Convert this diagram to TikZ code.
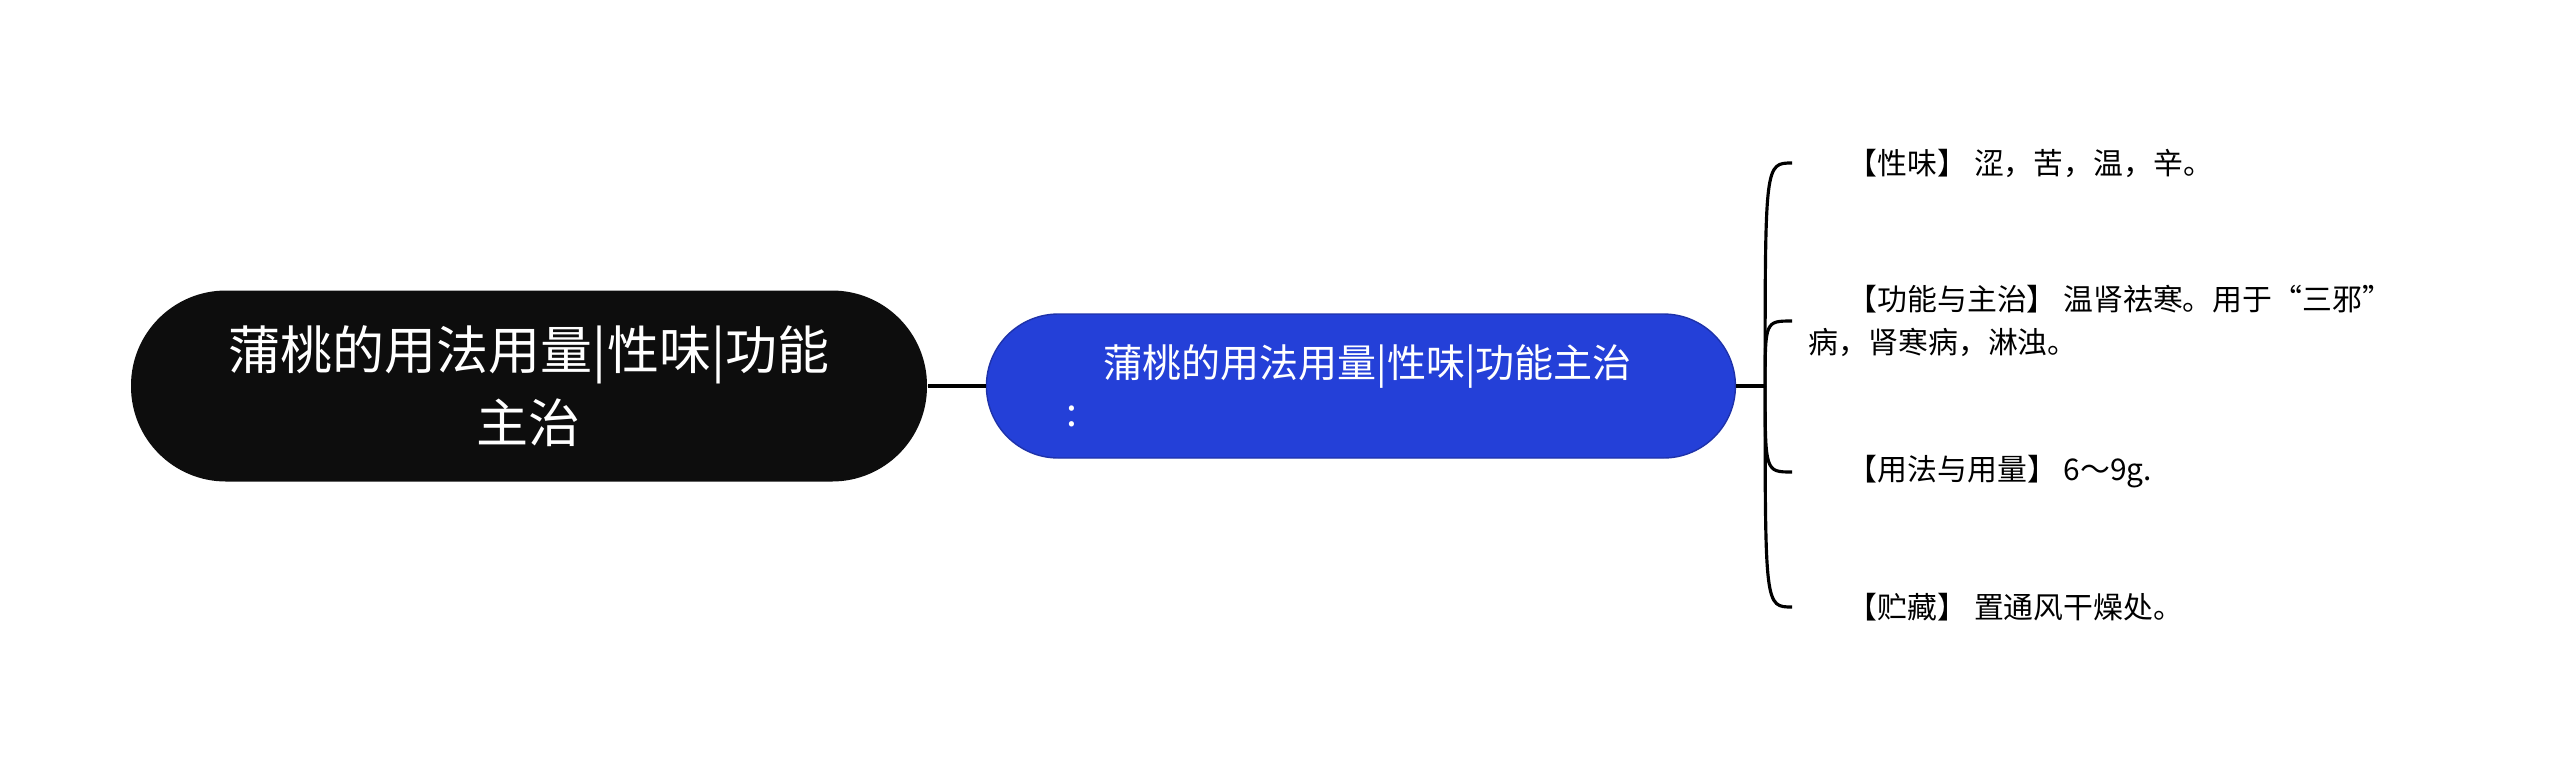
\documentclass[tikz,border=0pt]{standalone}
\usepackage{fontspec}
\setmainfont{Noto Sans CJK SC}
\usepackage{tikz}
\usetikzlibrary{positioning}
\definecolor{rootblack}{RGB}{13,13,13}
\definecolor{subblue}{RGB}{36,64,216}
\definecolor{subborder}{RGB}{30,50,170}

\begin{document}
\begin{tikzpicture}[node distance=0.58cm]
    \tikzstyle{rootnode} = [rectangle, rounded corners=0.95cm, minimum width=7.96cm, minimum height=1.91cm, fill=rootblack, text=white, align=center, font=\fontsize{14.8pt}{20.7pt}\selectfont]
    \tikzstyle{subnode} = [rectangle, rounded corners=0.72cm, minimum width=7.49cm, minimum height=1.44cm, draw=subborder, line width=0.4pt, fill=subblue, text=white, align=left, font=\fontsize{11.1pt}{14pt}\selectfont]
    \tikzstyle{leaf} = [inner sep=0pt, align=left, font=\fontsize{8.5pt}{12pt}\selectfont]
    \tikzstyle{line} = [line width=0.9pt, black]

    \useasboundingbox (0,0) rectangle (25.6,-7.73);
    \node (root) [rootnode] at (5.29,-3.86) {蒲桃的用法用量|性味|功能\\主治};
    \node (sub) [subnode, right=of root] {\hspace*{0.95em}蒲桃的用法用量|性味|功能主治\hspace*{0.6em}\\:};
    \coordinate [right=0.29cm of sub] (fork);

    % bracket ends
    \coordinate [above right=2.23cm and 0.27cm of fork] (taste);
    \coordinate [above right=0.65cm and 0.27cm of fork] (effect);
    \coordinate [below right=0.86cm and 0.27cm of fork] (usage);
    \coordinate [below right=2.21cm and 0.27cm of fork] (storage);

    \node (tastetext) [leaf, right=0.55cm of taste] {【性味】 涩，苦，温，辛。};
    \node (effecttext) [leaf, right=0.16cm of effect] {\hspace*{1.3em}【功能与主治】 温肾祛寒。用于“三邪”\\病，肾寒病，淋浊。};
    \node (usagetext) [leaf, right=0.55cm of usage] {【用法与用量】 6～9g.};
    \node (storagetext) [leaf, right=0.55cm of storage] {【贮藏】 置通风干燥处。};

    \draw [line] (root) -- (sub);
    \draw [line] (sub) -- (fork);
    \foreach \leafend in {taste, effect, usage, storage}
        \draw [line] (fork) .. controls (fork |- \leafend) .. (\leafend);
\end{tikzpicture}
\end{document}
